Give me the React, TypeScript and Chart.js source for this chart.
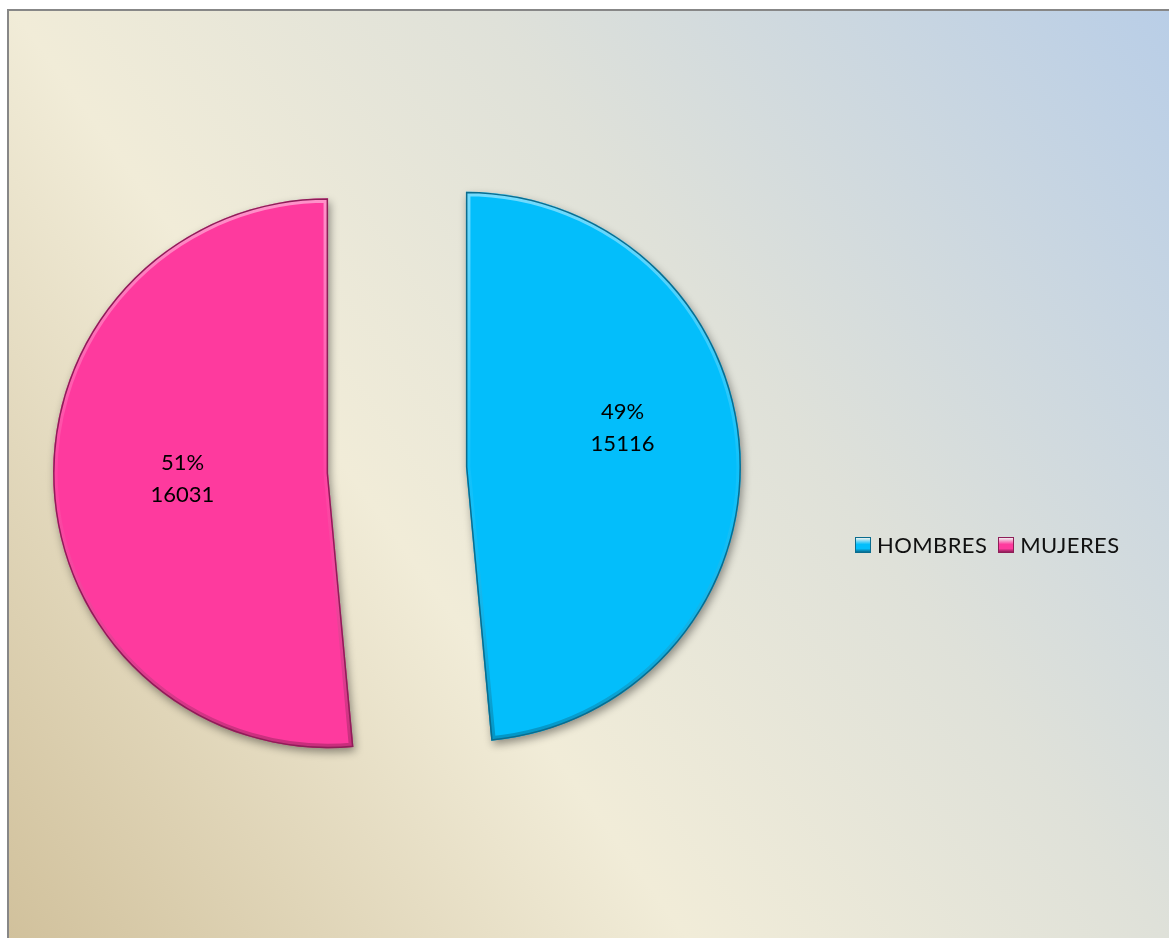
import React, { useEffect, useRef } from "react";
import { Chart, registerables } from "chart.js";

Chart.register(...registerables);

const CATEGORIES = ["HOMBRES", "MUJERES"];
const VALUES = [15116, 16031];
const COLORS = ["#03BEFB", "#FE3A9E"];
const BORDER_COLORS = ["#0A6C8E", "#8E1E58"];
const EXPLODE = 69;
const LABEL_RADIUS = [0.57, 0.53];
const LABEL_NUDGE_Y = [-32, -1];

const total = VALUES.reduce((a, b) => a + b, 0);

const explodePlugin = {
  id: "explodePlugin",
  beforeDatasetDraw(chart: any, args: any) {
    const ctx = chart.ctx;
    const meta = args.meta;
    meta.data.forEach((arc: any, i: number) => {
      const mid = (arc.startAngle + arc.endAngle) / 2;
      const dx = Math.cos(mid) * EXPLODE;
      const dy = Math.sin(mid) * EXPLODE;
      ctx.save();
      ctx.translate(dx, dy);
      // shadowed slice
      ctx.save();
      ctx.shadowColor = "rgba(0,0,0,0.40)";
      ctx.shadowBlur = 9;
      ctx.shadowOffsetX = 2;
      ctx.shadowOffsetY = 4;
      arc.draw(ctx);
      ctx.restore();
      // bevel
      const cx = arc.x;
      const cy = arc.y;
      const r = arc.outerRadius;
      ctx.save();
      ctx.beginPath();
      ctx.moveTo(cx, cy);
      ctx.arc(cx, cy, r, arc.startAngle, arc.endAngle);
      ctx.closePath();
      ctx.clip();
      const g = ctx.createLinearGradient(cx, cy - r, cx, cy + r);
      g.addColorStop(0, "rgba(255,255,255,0.45)");
      g.addColorStop(0.5, "rgba(255,255,255,0.05)");
      g.addColorStop(1, "rgba(0,0,0,0.22)");
      ctx.strokeStyle = g;
      ctx.lineWidth = 9;
      ctx.lineJoin = "round";
      ctx.stroke();
      ctx.strokeStyle = BORDER_COLORS[i];
      ctx.lineWidth = 3;
      ctx.stroke();
      ctx.restore();
      // labels
      const lr = r * LABEL_RADIUS[i];
      const lx = cx + Math.cos(mid) * lr;
      const ly = cy + Math.sin(mid) * lr + LABEL_NUDGE_Y[i];
      const pct = Math.round((VALUES[i] / total) * 100) + "%";
      ctx.fillStyle = "#000";
      ctx.font = "22px Lato";
      ctx.textAlign = "center";
      ctx.textBaseline = "middle";
      ctx.fillText(pct, lx, ly - 16);
      ctx.fillText(String(VALUES[i]), lx, ly + 16);
      ctx.restore();
    });
    return false;
  },
};

export default function App() {
  const ref = useRef<HTMLCanvasElement | null>(null);
  useEffect(() => {
    document.body.style.overflow = "hidden";
    if (!ref.current) return;
    const chart = new Chart(ref.current, {
      type: "pie",
      data: {
        labels: CATEGORIES,
        datasets: [
          {
            data: VALUES,
            backgroundColor: COLORS,
            borderColor: BORDER_COLORS,
            borderWidth: 0,
            offset: 0,
            hoverOffset: 0,
          },
        ],
      },
      options: {
        responsive: false,
        animation: false,
        radius: 275,
        layout: { padding: { left: 0, top: 0, right: 384, bottom: 9 } },
        plugins: {
          legend: { display: false },
          tooltip: { enabled: false },
        },
      } as any,
      plugins: [explodePlugin],
    });
    return () => chart.destroy();
  }, []);

  const marker = (color: string, dark: string) => ({
    display: "inline-block",
    width: 14,
    height: 14,
    background: `linear-gradient(180deg, rgba(255,255,255,0.55) 0%, ${color} 45%, ${color} 75%, ${dark} 100%)`,
    border: `1px solid ${dark}`,
    marginRight: 6,
  });

  return (
    <div
      style={{
        position: "fixed",
        left: 7,
        top: 9,
        width: 1162,
        height: 929,
        boxSizing: "border-box",
        borderTop: "2px solid #878787",
        borderLeft: "2px solid #878787",
        background:
          "linear-gradient(54deg, #D1C19C 0%, #F1ECD8 37%, #DFE1D9 63%, #B9CEE7 100%)",
        overflow: "hidden",
      }}
    >
      <canvas ref={ref} width={1160} height={927} style={{ display: "block" }} />
      <div
        style={{
          position: "absolute",
          left: 846,
          top: 520,
          display: "flex",
          alignItems: "center",
          fontFamily: "Lato",
          fontSize: 22,
          letterSpacing: 0.4,
          color: "#111",
          whiteSpace: "nowrap",
        }}
      >
        <span style={marker(COLORS[0], BORDER_COLORS[0])} />
        <span style={{ marginRight: 11 }}>{CATEGORIES[0]}</span>
        <span style={marker(COLORS[1], BORDER_COLORS[1])} />
        <span>{CATEGORIES[1]}</span>
      </div>
    </div>
  );
}
